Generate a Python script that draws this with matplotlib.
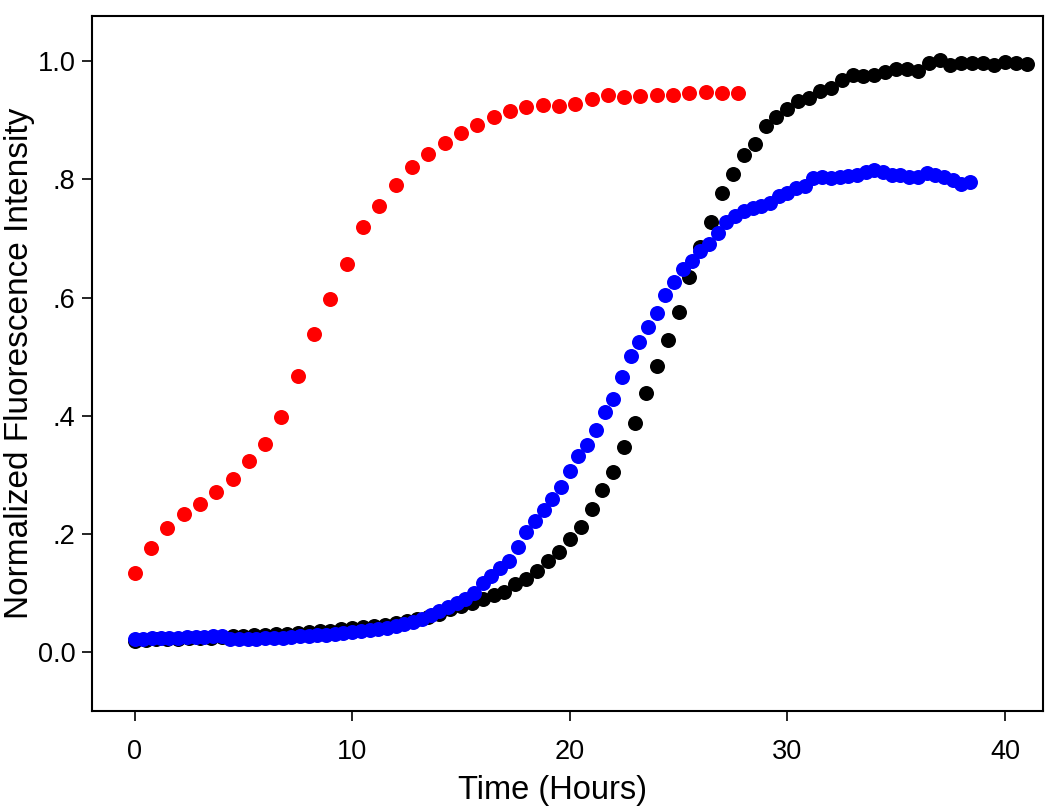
import numpy as np
import matplotlib
matplotlib.use("Agg")
import matplotlib.pyplot as plt

plt.rcParams['font.family'] = ['Liberation Sans', 'DejaVu Sans']

# ---- data ----
red_step = 0.75
red_y = [0.135, 0.176, 0.210, 0.234, 0.251, 0.271, 0.294, 0.324, 0.353, 0.398,
         0.468, 0.539, 0.598, 0.656, 0.719, 0.755, 0.790, 0.820, 0.842, 0.862,
         0.879, 0.892, 0.905, 0.915, 0.922, 0.925, 0.924, 0.927, 0.936, 0.942,
         0.939, 0.940, 0.942, 0.942, 0.945, 0.947, 0.945, 0.945]

black_step = 0.5
black_y = [0.020, 0.021, 0.022, 0.022, 0.023, 0.024, 0.024, 0.025, 0.026, 0.027,
           0.028, 0.029, 0.030, 0.031, 0.032, 0.033, 0.034, 0.036, 0.037, 0.039,
           0.041, 0.043, 0.045, 0.047, 0.050, 0.053, 0.056, 0.060, 0.065, 0.073,
           0.078, 0.083, 0.090, 0.097, 0.102, 0.116, 0.125, 0.138, 0.155, 0.170,
           0.191, 0.212, 0.242, 0.274, 0.305, 0.347, 0.388, 0.438, 0.484, 0.529,
           0.576, 0.634, 0.686, 0.727, 0.776, 0.809, 0.841, 0.860, 0.890, 0.905,
           0.919, 0.933, 0.937, 0.949, 0.955, 0.967, 0.976, 0.975, 0.977, 0.982,
           0.986, 0.986, 0.983, 0.997, 1.002, 0.993, 0.997, 0.997, 0.996, 0.993,
           0.998, 0.997, 0.995]

blue_step = 0.4
blue_y = [0.023, 0.023, 0.024, 0.024, 0.025, 0.025, 0.026, 0.026, 0.026, 0.027,
          0.028, 0.022, 0.022, 0.023, 0.023, 0.024, 0.025, 0.025, 0.026, 0.027,
          0.028, 0.029, 0.030, 0.031, 0.033, 0.034, 0.036, 0.038, 0.040, 0.042,
          0.045, 0.048, 0.052, 0.057, 0.063, 0.070, 0.077, 0.083, 0.090, 0.101,
          0.117, 0.130, 0.143, 0.155, 0.178, 0.203, 0.223, 0.241, 0.260, 0.280,
          0.307, 0.332, 0.351, 0.376, 0.406, 0.429, 0.465, 0.501, 0.524, 0.551,
          0.574, 0.604, 0.627, 0.648, 0.662, 0.679, 0.691, 0.709, 0.727, 0.738,
          0.747, 0.751, 0.754, 0.759, 0.772, 0.776, 0.785, 0.789, 0.802, 0.804,
          0.802, 0.803, 0.806, 0.807, 0.812, 0.816, 0.812, 0.807, 0.807, 0.804,
          0.803, 0.810, 0.807, 0.803, 0.798, 0.792, 0.795]

x_ticks = [0, 10, 20, 30, 40]
y_ticks = [0.0, 0.2, 0.4, 0.6, 0.8, 1.0]
y_tick_labels = ["0.0", ".2", ".4", ".6", ".8", "1.0"]

red_x = np.arange(len(red_y)) * red_step
black_x = np.arange(len(black_y)) * black_step
blue_x = np.arange(len(blue_y)) * blue_step

# ---- figure ----
fig = plt.figure(figsize=(10.5, 8.11), dpi=100)
ax = fig.add_axes([0.0876, 0.1233, 0.9057, 0.857])

ms = 10.8
ax.plot(red_x, red_y, 'o', color='#ff0000', markersize=ms, markeredgewidth=0)
ax.plot(black_x, black_y, 'o', color='#000000', markersize=ms, markeredgewidth=0)
ax.plot(blue_x, blue_y, 'o', color='#0000ff', markersize=ms, markeredgewidth=0)

ax.set_xlim(-1.96, 41.75)
ax.set_ylim(-0.099, 1.076)
ax.set_xticks(x_ticks)
ax.set_yticks(y_ticks)
ax.set_yticklabels(y_tick_labels)

for sp in ax.spines.values():
    sp.set_linewidth(1.5)
ax.tick_params(axis='both', direction='out', length=7, width=1.2, labelsize=19.5)
ax.tick_params(axis='x', pad=13)
ax.tick_params(axis='y', pad=5)

ax.set_xlabel("Time (Hours)", fontsize=23.5)
ax.xaxis.set_label_coords(0.484, -0.114)
ax.xaxis.label.set_verticalalignment('center')

ax.set_ylabel("Normalized Fluorescence Intensity", fontsize=24)
ax.yaxis.set_label_coords(-0.076, 0.5)
ax.yaxis.label.set_verticalalignment('center')

fig.savefig("out.png", dpi=100)
